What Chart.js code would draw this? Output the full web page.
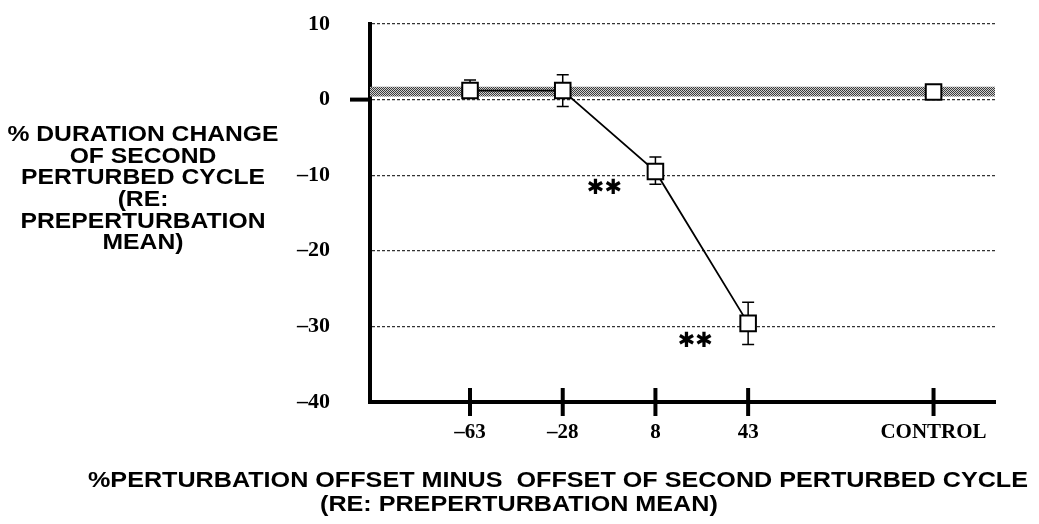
<!DOCTYPE html>
<html>
<head>
<meta charset="utf-8">
<script src="https://cdn.jsdelivr.net/npm/chart.js@4.4.0/dist/chart.umd.min.js"></script>
<style>
  html, body { margin: 0; padding: 0; background: #fff; }
  #wrap { width: 1039px; height: 524px; }
</style>
</head>
<body>
<div id="wrap"><canvas id="chart" width="1039" height="524"></canvas></div>
<script>
// categories on the x axis, and where they sit (gap before CONTROL)
const categories = ["–63", "–28", "8", "43", "CONTROL"];
const catPos = [1, 2, 3, 4, 6];

// % duration change, mean and error bar ends
const means = [1.2, 1.2, -9.5, -29.6, 1.0];
const errHigh = [2.6, 3.3, -7.6, -26.8, null];
const errLow = [0.2, -0.9, -11.2, -32.4, null];

// shaded control band
const bandRange = [0.4, 1.7];

const yTicks = [10, 0, -10, -20, -30, -40];

// significance marks (**)
const starX = [2.45, 3.43];
const starY = [-11.8, -32.0];

const yTitle = ["% DURATION CHANGE", "OF SECOND", "PERTURBED CYCLE", "(RE:", "PREPERTURBATION", "MEAN)"];
const xTitle = ["%PERTURBATION OFFSET MINUS  OFFSET OF SECOND PERTURBED CYCLE", "(RE: PREPERTURBATION MEAN)"];

const X_MIN = -0.079, X_MAX = 6.663;
const serif = "'Liberation Serif', 'Times New Roman', serif";
const sans = "'Liberation Sans', Arial, sans-serif";

function makeHatch() {
  const p = document.createElement("canvas");
  p.width = 4; p.height = 4;
  const g = p.getContext("2d");
  g.fillStyle = "#d0d0d0";
  g.fillRect(0, 0, 4, 4);
  g.fillStyle = "#3c3c3c";
  for (let y = 0; y < 4; y++) {
    for (let x = 0; x < 4; x++) {
      if ((x + y) % 2 === 0) g.fillRect(x, y, 1, 1);
    }
  }
  return g.createPattern(p, "repeat");
}

const decor = {
  id: "decor",
  beforeDatasetDraw(chart, args) {
    if (args.index !== 0) return;
    const { ctx, scales: { x, y } } = chart;
    ctx.save();
    ctx.strokeStyle = "#000";
    ctx.lineWidth = 1.5;
    catPos.forEach((pos, i) => {
      if (errHigh[i] === null) return;
      const px = x.getPixelForValue(pos);
      const top = y.getPixelForValue(errHigh[i]);
      const bot = y.getPixelForValue(errLow[i]);
      ctx.beginPath();
      ctx.moveTo(px, top); ctx.lineTo(px, bot);
      ctx.moveTo(px - 6, top); ctx.lineTo(px + 6, top);
      ctx.moveTo(px - 6, bot); ctx.lineTo(px + 6, bot);
      ctx.stroke();
    });
    ctx.restore();
  },
  afterDraw(chart) {
    const { ctx, chartArea, scales: { x, y } } = chart;
    ctx.save();
    // tick marks crossing the x axis
    ctx.strokeStyle = "#000";
    ctx.lineWidth = 4;
    catPos.forEach(pos => {
      const px = x.getPixelForValue(pos);
      ctx.beginPath();
      ctx.moveTo(px, chartArea.bottom - 14);
      ctx.lineTo(px, chartArea.bottom + 14);
      ctx.stroke();
    });
    // zero tick on the y axis
    const y0 = y.getPixelForValue(0);
    ctx.beginPath();
    ctx.moveTo(chartArea.left - 20, y0);
    ctx.lineTo(chartArea.left, y0);
    ctx.stroke();

    // ** marks
    ctx.fillStyle = "#000";
    ctx.font = "bold 21px 'DejaVu Sans', sans-serif";
    ctx.textAlign = "center";
    ctx.textBaseline = "middle";
    starX.forEach((sx, i) => {
      ctx.fillText("✱✱", x.getPixelForValue(sx), y.getPixelForValue(starY[i]));
    });

    // axis titles
    ctx.font = "bold 22px " + sans;
    const sy = 271 / ctx.measureText(yTitle[0]).width;
    const yLines = [135, 157, 178, 200, 222, 243];
    yTitle.forEach((t, i) => {
      ctx.save();
      ctx.translate(143, yLines[i]);
      ctx.scale(sy, 1);
      ctx.fillText(t, 0, 0);
      ctx.restore();
    });
    const sxx = 940 / ctx.measureText(xTitle[0]).width;
    ctx.textAlign = "left";
    [[88, 481], [320, 505]].forEach(([lx, ly], i) => {
      ctx.save();
      ctx.translate(lx, ly);
      ctx.scale(sxx, 1);
      ctx.fillText(xTitle[i], 0, 0);
      ctx.restore();
    });
    ctx.restore();
  }
};

const canvas = document.getElementById("chart");
const hatch = makeHatch();

new Chart(canvas, {
  type: "scatter",
  data: {
    datasets: [
      {
        data: catPos.slice(0, 4).map((p, i) => ({ x: p, y: means[i] })),
        showLine: true,
        borderColor: "#000",
        borderWidth: 1.8,
        pointStyle: "rect",
        pointRadius: 11,
        pointBorderWidth: 2,
        pointBackgroundColor: "#fff",
        pointBorderColor: "#000"
      },
      {
        data: [{ x: catPos[4], y: means[4] }],
        pointStyle: "rect",
        pointRadius: 11,
        pointBorderWidth: 2,
        pointBackgroundColor: "#fff",
        pointBorderColor: "#000"
      },
      {
        data: [{ x: X_MIN, y: bandRange[0] }, { x: X_MAX, y: bandRange[0] }],
        showLine: true,
        borderWidth: 0,
        pointRadius: 0
      },
      {
        data: [{ x: X_MIN, y: bandRange[1] }, { x: X_MAX, y: bandRange[1] }],
        showLine: true,
        borderWidth: 0,
        pointRadius: 0,
        fill: "-1",
        backgroundColor: hatch
      }
    ]
  },
  options: {
    responsive: false,
    animation: false,
    devicePixelRatio: 1,
    layout: { autoPadding: false, padding: { top: 24, right: 44, left: 0, bottom: 0 } },
    plugins: { legend: { display: false }, tooltip: { enabled: false } },
    scales: {
      x: {
        type: "linear",
        min: X_MIN,
        max: X_MAX,
        afterBuildTicks: s => { s.ticks = catPos.map(v => ({ value: v })); },
        afterFit: s => { s.height = 122; },
        grid: { display: false, drawTicks: false },
        border: { display: true, color: "#000", width: 4 },
        ticks: {
          autoSkip: false,
          maxRotation: 0,
          padding: 18,
          color: "#000",
          font: { family: serif, size: 21, weight: "bold" },
          callback: v => {
            const i = catPos.indexOf(v);
            return i >= 0 ? categories[i] : "";
          }
        }
      },
      y: {
        min: -40,
        max: 10,
        afterBuildTicks: s => { s.ticks = yTicks.map(v => ({ value: v })); },
        afterFit: s => {
          s.width = 370;
          s.paddingTop = 13;
          s.paddingBottom = 13;
        },
        grid: {
          drawTicks: false,
          color: c => (c.tick && c.tick.value === -40 ? "rgba(0,0,0,0)" : "#333"),
          lineWidth: 1.2
        },
        border: { display: true, color: "#000", width: 4, dash: [3, 2] },
        ticks: {
          padding: 40,
          color: "#000",
          font: { family: serif, size: 22, weight: "bold" },
          callback: v => (v < 0 ? "–" + (-v) : String(v))
        }
      }
    }
  },
  plugins: [decor]
});
</script>
</body>
</html>
